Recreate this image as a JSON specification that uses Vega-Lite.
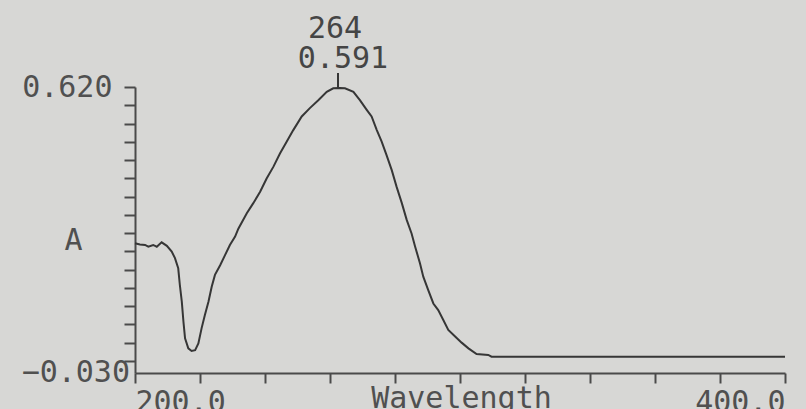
{
  "$schema": "https://vega.github.io/schema/vega-lite/v6.json",
  "width": 650,
  "height": 286,
  "autosize": {"type": "none"},
  "padding": {"left": 135, "top": 87, "right": 21, "bottom": 36},
  "background": "#d7d7d5",
  "view": {"stroke": null},
  "config": {"font": "DejaVu Sans Mono"},
  "datasets": {
    "spectrum": [
      {"wl": 200.0, "A": 0.265}, {"wl": 201.5, "A": 0.262}, {"wl": 203.1, "A": 0.261}, {"wl": 204.1, "A": 0.257},
      {"wl": 205.6, "A": 0.261}, {"wl": 206.7, "A": 0.257}, {"wl": 208.2, "A": 0.267}, {"wl": 209.8, "A": 0.259},
      {"wl": 211.3, "A": 0.246}, {"wl": 212.3, "A": 0.231}, {"wl": 213.3, "A": 0.208}, {"wl": 213.8, "A": 0.170},
      {"wl": 214.4, "A": 0.132}, {"wl": 214.9, "A": 0.087}, {"wl": 215.4, "A": 0.049}, {"wl": 216.4, "A": 0.026},
      {"wl": 217.4, "A": 0.020}, {"wl": 218.5, "A": 0.022}, {"wl": 219.5, "A": 0.037}, {"wl": 220.5, "A": 0.072},
      {"wl": 221.5, "A": 0.102}, {"wl": 222.6, "A": 0.132}, {"wl": 223.6, "A": 0.166}, {"wl": 224.6, "A": 0.193},
      {"wl": 226.2, "A": 0.215}, {"wl": 227.7, "A": 0.238}, {"wl": 229.2, "A": 0.261}, {"wl": 230.8, "A": 0.280},
      {"wl": 231.8, "A": 0.298}, {"wl": 234.4, "A": 0.333}, {"wl": 236.4, "A": 0.356}, {"wl": 238.5, "A": 0.382},
      {"wl": 240.5, "A": 0.412}, {"wl": 242.6, "A": 0.439}, {"wl": 244.6, "A": 0.469}, {"wl": 246.7, "A": 0.496},
      {"wl": 248.7, "A": 0.522}, {"wl": 251.3, "A": 0.553}, {"wl": 253.8, "A": 0.572}, {"wl": 256.4, "A": 0.590},
      {"wl": 259.0, "A": 0.609}, {"wl": 261.0, "A": 0.617}, {"wl": 263.0, "A": 0.618}, {"wl": 264.6, "A": 0.617},
      {"wl": 267.2, "A": 0.609}, {"wl": 269.2, "A": 0.590}, {"wl": 271.3, "A": 0.568}, {"wl": 272.8, "A": 0.553},
      {"wl": 274.4, "A": 0.522}, {"wl": 275.9, "A": 0.496}, {"wl": 277.4, "A": 0.465}, {"wl": 279.0, "A": 0.431},
      {"wl": 280.5, "A": 0.393}, {"wl": 282.1, "A": 0.356}, {"wl": 283.6, "A": 0.318}, {"wl": 285.1, "A": 0.287},
      {"wl": 286.2, "A": 0.257}, {"wl": 287.7, "A": 0.219}, {"wl": 288.7, "A": 0.189}, {"wl": 290.2, "A": 0.159},
      {"wl": 291.8, "A": 0.128}, {"wl": 293.3, "A": 0.113}, {"wl": 294.9, "A": 0.090}, {"wl": 296.4, "A": 0.068},
      {"wl": 298.5, "A": 0.053}, {"wl": 300.5, "A": 0.039}, {"wl": 302.6, "A": 0.026}, {"wl": 305.1, "A": 0.013},
      {"wl": 308.7, "A": 0.011}, {"wl": 309.7, "A": 0.007}, {"wl": 400.0, "A": 0.007}
    ],
    "peak": [{"wl": 264, "A": 0.618, "nm": "264", "abs": "0.591"}],
    "ymin": [{"wl": 200, "A": -0.03, "lab": "\u22120.030"}]
  },
  "encoding": {
    "x": {
      "field": "wl", "type": "quantitative",
      "scale": {"domain": [200, 400], "nice": false, "zero": false},
      "axis": {
        "values": [200, 220, 240, 260, 280, 300, 320, 340, 360, 380, 400],
        "tickCount": 50,
        "labelExpr": "datum.value == 200 ? '200.0' : datum.value == 400 ? '400.0' : ''",
        "labelFlush": true, "labelFlushOffset": 0, "labelOverlap": false,
        "labelFont": "DejaVu Sans Mono", "labelFontSize": 30, "labelColor": "#505050", "labelPadding": 4,
        "tickSize": 10, "tickWidth": 2, "tickColor": "#4a4a4a",
        "domainColor": "#4a4a4a", "domainWidth": 2, "grid": false,
        "title": "Wavelength", "titleFont": "DejaVu Sans Mono", "titleFontSize": 30, "titleFontWeight": "normal",
        "titleColor": "#505050", "titleX": 326, "titleY": 34, "titleAlign": "center", "titleBaseline": "alphabetic"
      }
    },
    "y": {
      "field": "A", "type": "quantitative",
      "scale": {"domain": [-0.03, 0.62], "nice": false, "zero": false},
      "axis": {
        "values": [0.62, 0.5785, 0.537, 0.4955, 0.454, 0.4125, 0.371, 0.3295, 0.288, 0.2465, 0.205, 0.1635, 0.122, 0.0805, 0.039, -0.0025],
        "tickCount": 50,
        "labelExpr": "datum.value == 0.62 ? '0.620' : ''",
        "labelFlush": false, "labelOverlap": false,
        "labelFont": "DejaVu Sans Mono", "labelFontSize": 30, "labelColor": "#505050", "labelPadding": 12,
        "tickSize": 11, "tickWidth": 2, "tickColor": "#4a4a4a",
        "domainColor": "#4a4a4a", "domainWidth": 2, "grid": false,
        "title": "A", "titleFont": "DejaVu Sans Mono", "titleFontSize": 30, "titleFontWeight": "normal",
        "titleColor": "#505050", "titleAngle": 0, "titleX": -62, "titleY": 153, "titleAlign": "center", "titleBaseline": "middle"
      }
    }
  },
  "layer": [
    {
      "data": {"name": "spectrum"},
      "mark": {"type": "line", "color": "#363636", "strokeWidth": 2}
    },
    {
      "data": {"name": "peak"},
      "mark": {"type": "rule", "color": "#363636", "strokeWidth": 2, "y2Offset": -15, "xOffset": -5},
      "encoding": {"y2": {"field": "A"}}
    },
    {
      "data": {"name": "peak"},
      "mark": {"type": "text", "font": "DejaVu Sans Mono", "fontSize": 30, "color": "#454545", "baseline": "alphabetic", "align": "center", "dy": -20},
      "encoding": {"text": {"field": "abs"}}
    },
    {
      "data": {"name": "peak"},
      "mark": {"type": "text", "font": "DejaVu Sans Mono", "fontSize": 30, "color": "#454545", "baseline": "alphabetic", "align": "center", "dy": -50, "dx": -8},
      "encoding": {"text": {"field": "nm"}}
    },
    {
      "data": {"name": "ymin"},
      "mark": {"type": "text", "font": "DejaVu Sans Mono", "fontSize": 30, "color": "#505050", "baseline": "middle", "align": "right", "dx": -5},
      "encoding": {"text": {"field": "lab"}}
    }
  ]
}
